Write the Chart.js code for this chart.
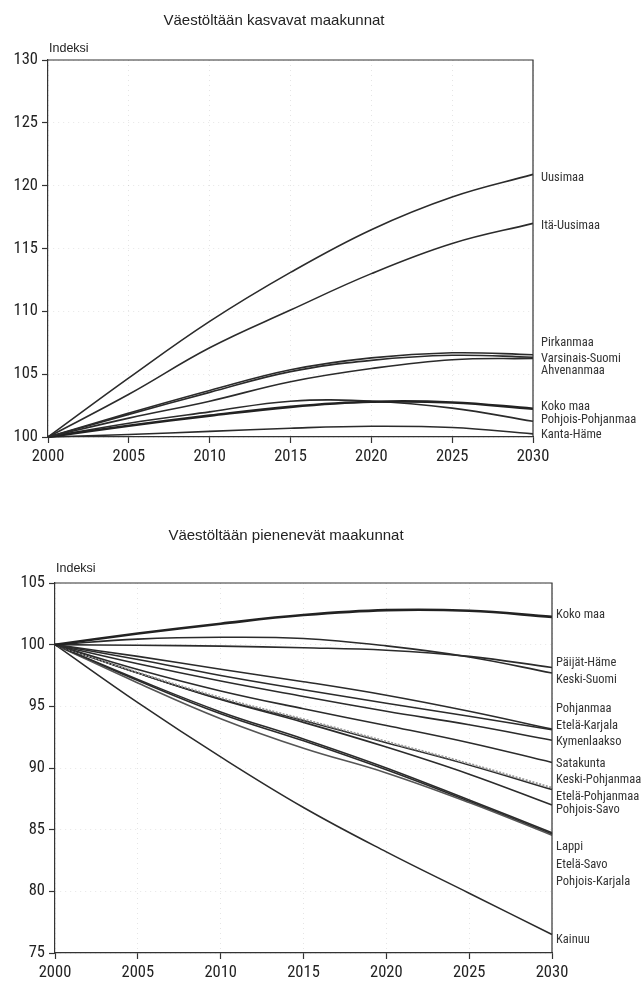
<!DOCTYPE html>
<html>
<head>
<meta charset="utf-8">
<script src="https://cdn.jsdelivr.net/npm/chart.js@4.4.1/dist/chart.umd.min.js"></script>
<style>
  html, body { margin: 0; padding: 0; background: #ffffff; }
  body { width: 641px; height: 982px; position: relative; overflow: hidden; }
  canvas { position: absolute; left: 0; }
  #c1 { top: 0; }
  #c2 { top: 500px; }
</style>
</head>
<body>
<canvas id="c1" width="641" height="480"></canvas>
<canvas id="c2" width="641" height="482"></canvas>
<script>
// ---------- data ----------
const years = [2000, 2005, 2010, 2015, 2020, 2025, 2030];

// Chart 1: Väestöltään kasvavat maakunnat
const topTitle = "Väestöltään kasvavat maakunnat";
const topNames = ["Uusimaa", "Itä-Uusimaa", "Pirkanmaa", "Varsinais-Suomi", "Ahvenanmaa", "Koko maa", "Pohjois-Pohjanmaa", "Kanta-Häme"];
const uusimaa          = [100, 104.7, 109.2, 113.1, 116.5, 119.1, 120.9];
const itaUusimaa       = [100, 103.4, 107.1, 110.1, 113.0, 115.4, 117.0];
const pirkanmaa        = [100, 101.9, 103.7, 105.35, 106.3, 106.7, 106.55];
const varsinaisSuomi   = [100, 101.8, 103.55, 105.2, 106.1, 106.5, 106.35];
const ahvenanmaa       = [100, 101.5, 102.85, 104.4, 105.45, 106.15, 106.25];
const kokoMaa          = [100, 100.9, 101.7, 102.4, 102.8, 102.75, 102.25];
const pohjoisPohjanmaa = [100, 101.1, 102.0, 102.85, 102.85, 102.3, 101.25];
const kantaHame        = [100, 100.2, 100.45, 100.7, 100.85, 100.75, 100.25];
const topLabelAt = [120.6, 116.8, 107.5, 106.2, 105.3, 102.4, 101.4, 100.2];
const topTicks = [100, 105, 110, 115, 120, 125, 130];

// Chart 2: Väestöltään pienenevät maakunnat
const bottomTitle = "Väestöltään pienenevät maakunnat";
const bottomNames = ["Koko maa", "Päijät-Häme", "Keski-Suomi", "Pohjanmaa", "Etelä-Karjala", "Kymenlaakso", "Satakunta",
  "Keski-Pohjanmaa", "Etelä-Pohjanmaa", "Pohjois-Savo", "Lappi", "Etelä-Savo", "Pohjois-Karjala", "Kainuu"];
const paijatHame      = [100, 99.95, 99.88, 99.75, 99.55, 99.05, 98.15];
const keskiSuomi      = [100, 100.45, 100.6, 100.5, 99.9, 99.0, 97.7];
const pohjanmaa       = [100, 99.05, 98.0, 97.0, 95.9, 94.6, 93.15];
const etelaKarjala    = [100, 98.8, 97.5, 96.35, 95.25, 94.2, 93.1];
const kymenlaakso     = [100, 98.45, 97.05, 95.8, 94.6, 93.5, 92.25];
const satakunta       = [100, 97.99, 96.25, 94.8, 93.45, 92.05, 90.45];
const keskiPohjanmaa  = [100, 97.75, 95.7, 93.95, 92.15, 90.35, 88.4];
const etelaPohjanmaa  = [100, 97.7, 95.6, 93.85, 92.05, 90.25, 88.25];
const pohjoisSavo     = [100, 97.7, 95.55, 93.7, 91.7, 89.5, 87.0];
const lappi           = [100, 97.18, 94.55, 92.35, 90.0, 87.4, 84.75];
const etelaSavo       = [100, 96.9, 94.0, 91.6, 89.6, 87.2, 84.55];
const pohjoisKarjala  = [100, 97.1, 94.4, 92.2, 89.85, 87.3, 84.65];
const kainuu          = [100, 95.3, 90.9, 86.8, 83.2, 79.85, 76.5];
const bottomLabelAt = [102.44, 98.53, 97.18, 94.76, 93.41, 92.14, 90.37, 89.02, 87.62, 86.62, 83.57, 82.17, 80.8, 76.09];
const bottomTicks = [75, 80, 85, 90, 95, 100, 105];

const topSeries = [uusimaa, itaUusimaa, pirkanmaa, varsinaisSuomi, ahvenanmaa, kokoMaa, pohjoisPohjanmaa, kantaHame];
const bottomSeries = [kokoMaa, paijatHame, keskiSuomi, pohjanmaa, etelaKarjala, kymenlaakso, satakunta,
  keskiPohjanmaa, etelaPohjanmaa, pohjoisSavo, lappi, etelaSavo, pohjoisKarjala, kainuu];

// ---------- styling ----------
const INK = '#2b2b2b';
const NARROW = '"Liberation Sans Narrow", "Roboto Condensed", "DejaVu Sans Condensed", sans-serif';
const REGULAR = '"Liberation Sans", Arial, sans-serif';

function styleFor(name) {
  if (name === 'Koko maa') return { color: '#222', width: 2.6, dash: [] };
  if (name === 'Keski-Pohjanmaa') return { color: '#9a9a9a', width: 2, dash: [2, 1.5] };
  if (name === 'Etelä-Savo') return { color: '#555', width: 1.6, dash: [] };
  return { color: INK, width: 1.6, dash: [] };
}

const decorPlugin = {
  id: 'decor',
  afterDraw(chart, args, opts) {
    const { ctx, chartArea: a } = chart;
    const y = chart.scales.y;
    ctx.save();
    // frame top and right
    ctx.strokeStyle = '#333';
    ctx.lineWidth = 1.2;
    ctx.beginPath();
    ctx.moveTo(a.left, a.top);
    ctx.lineTo(a.right, a.top);
    ctx.lineTo(a.right, a.bottom);
    ctx.stroke();
    // title
    ctx.fillStyle = '#222';
    ctx.textBaseline = 'middle';
    ctx.textAlign = 'center';
    ctx.font = '15px ' + REGULAR;
    ctx.fillText(opts.title, opts.titleX, opts.titleY);
    // axis title
    ctx.textAlign = 'left';
    ctx.font = '12.5px ' + REGULAR;
    ctx.fillText('Indeksi', a.left + 1, opts.indeksiY);
    // end labels
    ctx.font = '12.5px ' + NARROW;
    ctx.fillStyle = '#333';
    opts.names.forEach((n, i) => {
      ctx.fillText(n, a.right + opts.labelDx, y.getPixelForValue(opts.labelAt[i]));
    });
    ctx.restore();
  }
};

function makeChart(canvasId, names, series, ymin, ymax, ticks, pad, xHeight, yWidth, decor) {
  return new Chart(document.getElementById(canvasId), {
    type: 'line',
    data: {
      labels: years,
      datasets: names.map((n, i) => {
        const s = styleFor(n);
        return {
          label: n,
          data: series[i],
          borderColor: s.color,
          borderWidth: s.width,
          borderDash: s.dash,
          pointRadius: 0,
          fill: false,
          tension: 0.4,
          clip: 4
        };
      })
    },
    options: {
      responsive: false,
      animation: false,
      devicePixelRatio: 1,
      layout: { padding: pad },
      plugins: {
        legend: { display: false },
        tooltip: { enabled: false },
        decor: decor
      },
      scales: {
        x: {
          grid: { color: 'rgba(0,0,0,0.10)', tickColor: '#333', tickLength: 6, drawTicks: true, tickWidth: 1.2 },
          border: { display: true, color: '#333', width: 1.2, dash: [1, 4] },
          ticks: { color: '#222', font: { family: NARROW, size: 16.5 }, padding: 4, maxRotation: 0, autoSkip: false },
          afterFit(s) { s.height = xHeight; }
        },
        y: {
          min: ymin,
          max: ymax,
          afterBuildTicks(s) { s.ticks = ticks.map(v => ({ value: v })); },
          grid: { color: 'rgba(0,0,0,0.10)', tickColor: '#333', tickLength: 6, drawTicks: true, tickWidth: 1.2 },
          border: { display: true, color: '#333', width: 1.2, dash: [1, 4] },
          ticks: { color: '#222', font: { family: NARROW, size: 16.5 }, padding: 4 },
          afterFit(s) { s.width = yWidth; }
        }
      }
    },
    plugins: [decorPlugin]
  });
}

makeChart('c1', topNames, topSeries, 100, 130, topTicks,
  { top: 60, right: 108, left: 0, bottom: 0 }, 43, 48,
  { title: topTitle, titleX: 274, titleY: 21, indeksiY: 49, names: topNames, labelAt: topLabelAt, labelDx: 8 });

makeChart('c2', bottomNames, bottomSeries, 75, 105, bottomTicks,
  { top: 83, right: 89, left: 0, bottom: 0 }, 29, 55,
  { title: bottomTitle, titleX: 286, titleY: 36, indeksiY: 69, names: bottomNames, labelAt: bottomLabelAt, labelDx: 4 });
</script>
</body>
</html>
